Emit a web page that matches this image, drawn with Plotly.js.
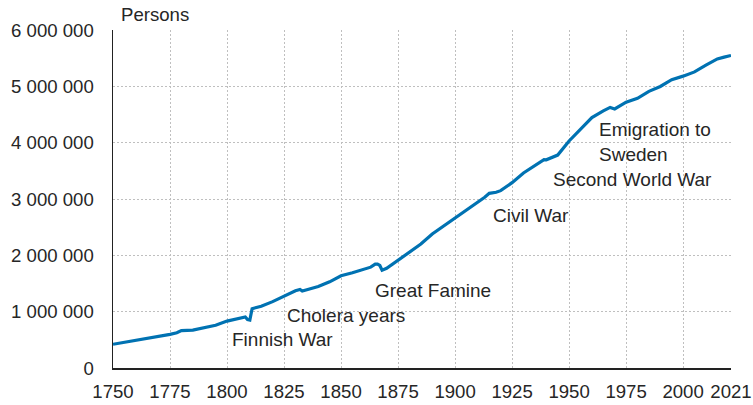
<!DOCTYPE html>
<html>
<head>
<meta charset="utf-8">
<script src="https://cdn.plot.ly/plotly-3.0.1.min.js"></script>
<style>html,body{margin:0;padding:0;background:#fff;}#chart{width:753px;height:405px;}</style>
</head>
<body>
<div id="chart"></div>
<script>
// Population of Finland 1750–2021
const years = [1750,1755,1760,1765,1770,1775,1778,1780,1785,1788,1790,1795,1800,1805,1808,1809,1810,1811,1815,1820,1825,1828,1830,1832,1833,1835,1840,1845,1850,1855,1860,1863,1865,1866,1867,1868,1870,1875,1880,1885,1890,1895,1900,1905,1910,1913,1915,1918,1920,1925,1930,1935,1939,1940,1943,1945,1950,1955,1960,1965,1968,1970,1975,1980,1985,1990,1995,2000,2005,2010,2015,2018,2020,2021];
const population = [421500,455000,491000,525000,561000,598000,625000,664000,672000,700000,705600,760000,832700,870000,905000,860000,850000,1053000,1096000,1178000,1280000,1330000,1372000,1395000,1367000,1390000,1446000,1530000,1637000,1690000,1747000,1790000,1843000,1844000,1820000,1737000,1769000,1912000,2061000,2200000,2380000,2520000,2656000,2800000,2943000,3030000,3100000,3120000,3148000,3290000,3463000,3600000,3700000,3696000,3740000,3780000,4030000,4235000,4446000,4564000,4626000,4598000,4720000,4788000,4911000,4998000,5117000,5181000,5256000,5375000,5487000,5518000,5533000,5548000];

const xTickVals = [1750,1775,1800,1825,1850,1875,1900,1925,1950,1975,2000,2021];
const xTickText = ['1750','1775','1800','1825','1850','1875','1900','1925','1950','1975','2000','2021'];
const yTickVals = [0,1000000,2000000,3000000,4000000,5000000,6000000];

const events = [
  {text:'Finnish War', x:1824.4, y:502000, anchor:'center'},
  {text:'Cholera years', x:1852.0, y:940000, anchor:'center'},
  {text:'Great Famine', x:1890.5, y:1383000, anchor:'center'},
  {text:'Civil War', x:1933.4, y:2710000, anchor:'center'},
  {text:'Second World War', x:1977.7, y:3345000, anchor:'center'},
  {text:'Emigration to<br>Sweden', x:1962.3, y:4010000, anchor:'left'}
];

const txtColor = '#262626';
const font = {family:'Liberation Sans, Arial, sans-serif', size:19, color:txtColor};
const tickFont = {family:'Liberation Sans, Arial, sans-serif', size:18.6, color:txtColor};

const annotations = events.map(e => ({
  text:e.text, x:e.x, y:e.y, xref:'x', yref:'y', showarrow:false,
  xanchor:e.anchor, yanchor:'middle', align:'left', font:font
}));
annotations.push({text:'Persons', xref:'paper', yref:'paper', x:0.009, y:1.047,
  xanchor:'left', yanchor:'middle', showarrow:false, font:tickFont});

const data = [{
  x: years, y: population, type:'scatter', mode:'lines',
  line:{color:'#0072B2', width:3.2}, hoverinfo:'skip'
}];

const grid = {showgrid:true, gridcolor:'#bfbfbf', griddash:'2px,2px', gridwidth:1};

const layout = {
  width:753, height:405,
  margin:{l:113, r:22, t:30, b:37, pad:0},
  paper_bgcolor:'#fff', plot_bgcolor:'#fff',
  separators:', ',
  font:font,
  showlegend:false,
  xaxis:Object.assign({
    range:[1750,2021], tickmode:'array', tickvals:xTickVals, ticktext:xTickText,
    showline:true, linecolor:'#222', linewidth:1.5,
    ticks:'outside', ticklen:6, tickcolor:'rgba(0,0,0,0)',
    zeroline:false, tickfont:tickFont, fixedrange:true
  }, grid),
  yaxis:Object.assign({
    range:[0,6000000], tickmode:'array', tickvals:yTickVals, tickformat:',d',
    showline:true, linecolor:'#222', linewidth:1.5,
    ticks:'outside', ticklen:14, tickcolor:'rgba(0,0,0,0)',
    zeroline:false, tickfont:tickFont, fixedrange:true
  }, grid),
  annotations:annotations
};

Plotly.newPlot('chart', data, layout, {displayModeBar:false, staticPlot:true});
</script>
</body>
</html>
